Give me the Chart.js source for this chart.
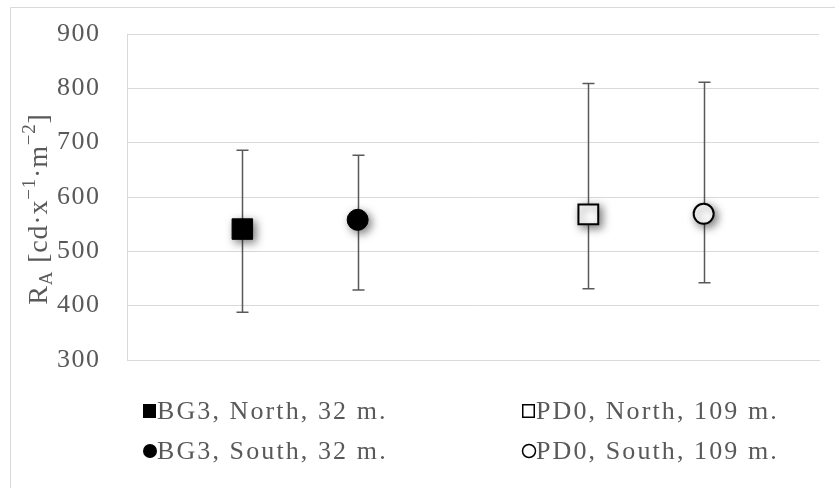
<!DOCTYPE html>
<html><head><meta charset="utf-8">
<script src="https://cdn.jsdelivr.net/npm/chart.js@4"></script>
<style>html,body{margin:0;padding:0;background:#fff}#wrap{width:835px;height:488px;position:relative}</style>
</head><body><div id="wrap"><canvas id="c" width="835" height="488"></canvas></div>
<script>
const seriesLabels = ["BG3, North, 32 m.", "BG3, South, 32 m.", "PD0, North, 109 m.", "PD0, South, 109 m."];
const xPositions = [1, 2, 4, 5];
const meanValues = [541, 558, 568, 569];
const upperValues = [686, 677, 809, 811];
const lowerValues = [388, 429, 431, 442];
const yTicks = [300, 400, 500, 600, 700, 800, 900];

const styles = [
  {pointStyle:'rect', bg:'#000', border:'#000', r:14.5, bw:1},
  {pointStyle:'circle', bg:'#000', border:'#000', r:10.5, bw:1},
  {pointStyle:'rect', bg:'#fff', border:'#000', r:14, bw:2},
  {pointStyle:'circle', bg:'#fff', border:'#000', r:10, bw:2}
];
const FONT = '"Liberation Serif", "Times New Roman", serif';
const GRID = '#d9d9d9';
const TXT = '#595959';

const datasets = seriesLabels.map((lab, i) => ({
  label: lab,
  data: [{x: xPositions[i], y: meanValues[i], hi: upperValues[i], lo: lowerValues[i]}],
  pointStyle: styles[i].pointStyle,
  backgroundColor: styles[i].bg,
  borderColor: styles[i].border,
  pointRadius: styles[i].r,
  pointHoverRadius: styles[i].r,
  pointBorderWidth: styles[i].bw,
  showLine: false
}));

const frame = {
  id: 'frame',
  beforeDraw(chart) {
    const ctx = chart.ctx;
    ctx.save();
    ctx.fillStyle = '#fff';
    ctx.fillRect(0, 0, chart.width, chart.height);
    ctx.strokeStyle = GRID;
    ctx.lineWidth = 1;
    ctx.beginPath();
    ctx.moveTo(10.5, chart.height);
    ctx.lineTo(10.5, 7.5);
    ctx.lineTo(chart.width, 7.5);
    ctx.stroke();
    ctx.restore();
    ctx.letterSpacing = '1.5px';
  }
};

const errorBars = {
  id: 'errorBars',
  beforeDatasetsDraw(chart) {
    const ctx = chart.ctx;
    const xs = chart.scales.x, ys = chart.scales.y;
    ctx.save();
    ctx.strokeStyle = '#595959';
    ctx.lineWidth = 1.5;
    chart.data.datasets.forEach(ds => {
      ds.data.forEach(p => {
        const x = Math.round(xs.getPixelForValue(p.x)) + 0.5;
        const yh = ys.getPixelForValue(p.hi), yl = ys.getPixelForValue(p.lo);
        ctx.beginPath();
        ctx.moveTo(x, yh); ctx.lineTo(x, yl);
        ctx.moveTo(x - 6, yh); ctx.lineTo(x + 6, yh);
        ctx.moveTo(x - 6, yl); ctx.lineTo(x + 6, yl);
        ctx.stroke();
      });
    });
    ctx.restore();
    ctx.save();
    ctx.shadowColor = 'rgba(0,0,0,0.5)';
    ctx.shadowBlur = 8;
    ctx.shadowOffsetX = 3;
    ctx.shadowOffsetY = 3;
  },
  afterDatasetsDraw(chart) {
    chart.ctx.restore();
  }
};

const yTitle = {
  id: 'yTitle',
  afterDraw(chart) {
    const ctx = chart.ctx;
    const parts = [
      {t:'R', s:28, dy:0},
      {t:'A', s:19, dy:5},
      {t:' [cd·x', s:28, dy:0},
      {t:'\u22121', s:19, dy:-12},
      {t:'·m', s:28, dy:0},
      {t:'\u22122', s:19, dy:-12},
      {t:']', s:28, dy:0}
    ];
    ctx.save();
    ctx.letterSpacing = '0.8px';
    let w = 0;
    parts.forEach(p => { ctx.font = p.s + 'px ' + FONT; p.w = ctx.measureText(p.t).width; w += p.w; });
    const cy = (chart.chartArea.top + chart.chartArea.bottom) / 2 + 12;
    ctx.translate(47, cy);
    ctx.rotate(-Math.PI / 2);
    ctx.fillStyle = TXT;
    ctx.textBaseline = 'alphabetic';
    let x = -w / 2;
    parts.forEach(p => { ctx.font = p.s + 'px ' + FONT; ctx.fillText(p.t, x, p.dy); x += p.w; });
    ctx.restore();
  }
};

const legendPlugin = {
  id: 'customLegend',
  afterDraw(chart) {
    const ctx = chart.ctx;
    const cols = [143, 522];
    const rows = [411, 451];
    const order = [[0,0],[0,1],[1,0],[1,1]];
    ctx.save();
    ctx.letterSpacing = '2.1px';
    ctx.font = '26px ' + FONT;
    ctx.textBaseline = 'middle';
    chart.data.datasets.forEach((ds, i) => {
      const x = cols[order[i][0]], y = rows[order[i][1]];
      const st = styles[i];
      ctx.fillStyle = st.bg;
      ctx.strokeStyle = st.border;
      ctx.lineWidth = st.bw > 1 ? 1.5 : 1;
      if (st.pointStyle === 'rect') {
        ctx.fillRect(x, y - 7, 13, 14);
        if (st.bg === '#fff') ctx.strokeRect(x + 0.75, y - 6.25, 11.5, 12.5);
      } else {
        ctx.beginPath();
        ctx.arc(x + 7, y, st.bg === '#fff' ? 6.5 : 7, 0, Math.PI * 2);
        ctx.fill();
        if (st.bg === '#fff') ctx.stroke();
      }
      ctx.fillStyle = TXT;
      ctx.fillText(ds.label, x + 14, y + 1);
    });
    ctx.restore();
  }
};

new Chart(document.getElementById('c'), {
  type: 'scatter',
  data: { datasets },
  options: {
    responsive: false,
    animation: false,
    devicePixelRatio: 1,
    layout: { padding: { left: 57, right: 11, top: 34, bottom: 128 } },
    plugins: { legend: { display: false }, tooltip: { enabled: false } },
    scales: {
      x: {
        type: 'linear', min: 0, max: 6,
        grid: { display: false, drawTicks: false },
        border: { display: true, color: GRID, width: 1 },
        ticks: { display: false },
        afterFit(s) { s.height = 0; }
      },
      y: {
        min: 300, max: 900,
        afterBuildTicks(s) { s.ticks = yTicks.map(v => ({value: v})); },
        grid: { color: GRID, lineWidth: 1, drawTicks: false },
        border: { display: true, color: GRID, width: 1 },
        ticks: { color: TXT, font: { family: FONT, size: 26 }, padding: 0, crossAlign: 'far' },
        afterFit(s) { s.width = 70; }
      }
    }
  },
  plugins: [frame, errorBars, yTitle, legendPlugin]
});
</script></body></html>
